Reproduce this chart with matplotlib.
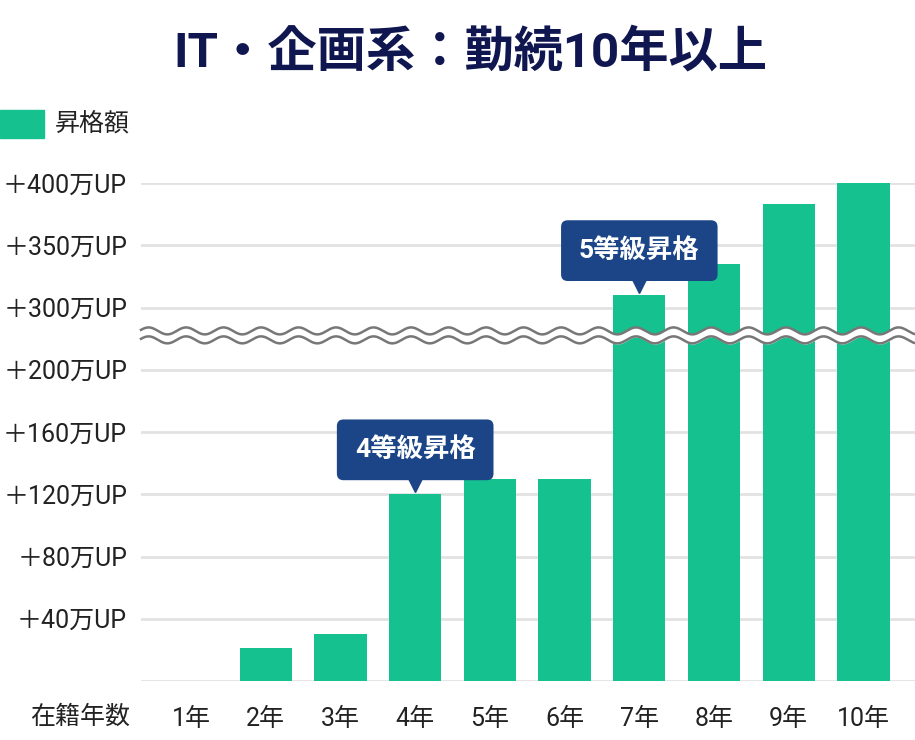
import numpy as np
import matplotlib.pyplot as plt
from matplotlib.patches import Rectangle
import matplotlib.transforms as mtransforms

plt.rcParams['font.family'] = ['Roboto', 'Noto Sans CJK JP', 'DejaVu Sans']

years = ['1年', '2年', '3年', '4年', '5年', '6年', '7年', '8年', '9年', '10年']
raise_amount = [0, 21, 30, 120, 130, 130, 310, 335, 383, 400]
tick_values = [0, 40, 80, 120, 160, 200, 300, 350, 400]
tick_labels = ['', '＋40万UP', '＋80万UP', '＋120万UP', '＋160万UP', '＋200万UP',
               '＋300万UP', '＋350万UP', '＋400万UP']
callouts = [(3, '4等級昇格'), (6, '5等級昇格')]

GREEN = '#15c18f'
NAVY = '#1b4587'
TITLE = '#0f1650'
TEXT = '#222222'


# broken axis: 0-200 in steps of 40, then 300-400 in steps of 50
def fwd(v):
    v = np.asarray(v, dtype=float)
    return np.where(v <= 200, v / 40, np.where(v >= 300, 6 + (v - 300) / 50, 5 + (v - 200) / 100))

def inv(u):
    u = np.asarray(u, dtype=float)
    return np.where(u <= 5, u * 40, np.where(u >= 6, 300 + (u - 6) * 50, 200 + (u - 5) * 100))


fig = plt.figure(figsize=(9.15, 7.4), dpi=100)
ax = fig.add_axes([141 / 915, 59 / 740, 774 / 915, 498 / 740])
ax.set_yscale('function', functions=(fwd, inv))
ax.set_ylim(0, 400)
ax.set_xlim(-0.67, 9.69)

x = np.arange(len(years))
ax.bar(x, raise_amount, width=0.7, color=GREEN, zorder=2)

ax.set_yticks(tick_values)
ax.set_yticklabels(tick_labels, fontsize=18, color=TEXT)
ax.set_xticks(x)
ax.set_xticklabels(years, fontsize=18, color=TEXT)
ax.tick_params(length=0)
ax.tick_params(axis='y', pad=10)
ax.tick_params(axis='x', pad=19)
ax.yaxis.grid(True, color='#e2e2e2', linewidth=2, zorder=0)
ax.set_axisbelow(True)
for s in ax.spines.values():
    s.set_visible(False)

# wavy break marks
t = np.linspace(0, 1, 800)
amp = 3.5 / 498
wave = amp * np.sin(2 * np.pi * t / (37.5 / 774) + 0.3)
top = 0.703 + wave
bot = 0.685 + wave
ax.fill_between(t, bot, top, color='white', transform=ax.transAxes, zorder=3, clip_on=False)
ax.plot(t, top, color='#777777', linewidth=1.8, transform=ax.transAxes, zorder=4, clip_on=False)
ax.plot(t, bot, color='#777777', linewidth=1.8, transform=ax.transAxes, zorder=4, clip_on=False)

# callouts above bars
for i, label in callouts:
    v = raise_amount[i]
    tri = mtransforms.offset_copy(ax.transData, fig=fig, x=0, y=9, units='dots')
    ax.plot([i], [v], marker='v', markersize=10, color=NAVY, transform=tri, zorder=5, clip_on=False)
    ax.annotate(label, xy=(i, v), xytext=(0, 32), textcoords='offset pixels',
                ha='center', va='bottom', fontsize=19, fontweight='bold', color='white',
                bbox=dict(boxstyle='round,pad=0.68,rounding_size=0.25', fc=NAVY, ec='none'),
                zorder=6)

fig.text(470 / 915, 1 - 53 / 740, 'IT・企画系：勤続10年以上', ha='center', va='center',
         fontsize=35.5, fontweight='bold', color=TITLE)

fig.add_artist(Rectangle((0, 1 - 138 / 740), 44 / 915, 28 / 740, transform=fig.transFigure,
                         color=GREEN))
fig.text(55 / 915, 1 - 124 / 740, '昇格額', ha='left', va='center', fontsize=18, color=TEXT)
fig.text(130 / 915, 1 - 717 / 740, '在籍年数', ha='right', va='center', fontsize=18, color=TEXT)

fig.savefig('out.png', dpi=100)
